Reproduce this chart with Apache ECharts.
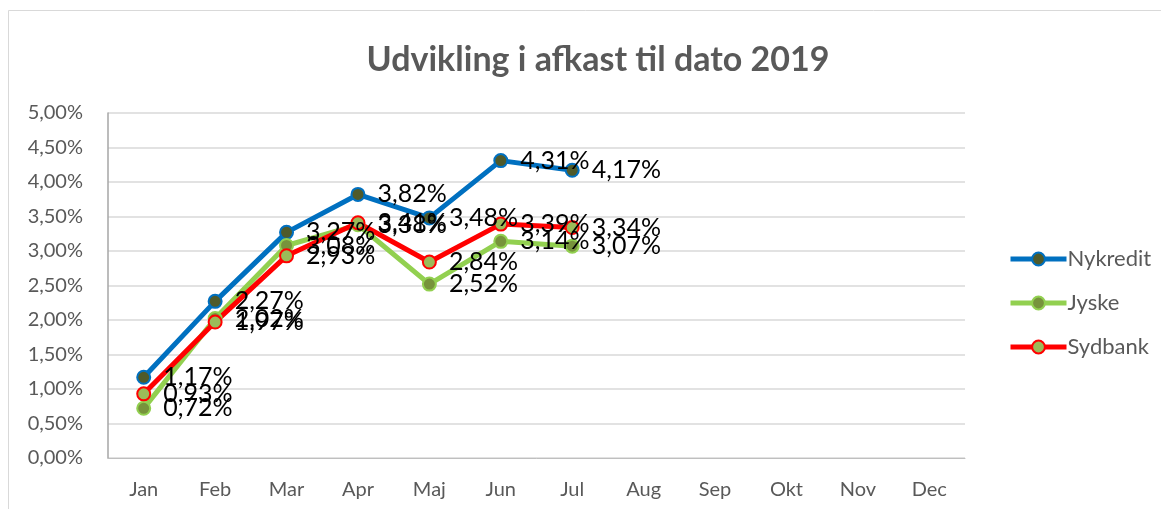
<!DOCTYPE html>
<html>
<head>
<meta charset="utf-8">
<script src="https://cdn.jsdelivr.net/npm/echarts@6/dist/echarts.min.js"></script>
<style>
  html, body { margin: 0; padding: 0; background: #fff; }
  #chart { width: 1161px; height: 509px; }
</style>
</head>
<body>
<div id="chart"></div>
<script>
var months = ["Jan", "Feb", "Mar", "Apr", "Maj", "Jun", "Jul", "Aug", "Sep", "Okt", "Nov", "Dec"];
var nykredit = [1.17, 2.27, 3.27, 3.82, 3.48, 4.31, 4.17];
var jyske = [0.72, 2.02, 3.08, 3.38, 2.52, 3.14, 3.07];
var sydbank = [0.93, 1.97, 2.93, 3.41, 2.84, 3.39, 3.34];

var fontName = "Lato, 'Open Sans', sans-serif";

function pct(v) {
  return v.toFixed(2).replace(".", ",") + "%";
}

function makeSeries(name, data, lineColor, fillColor) {
  return {
    name: name,
    type: "line",
    data: data,
    symbol: "circle",
    symbolSize: 13,
    lineStyle: { color: lineColor, width: 5 },
    itemStyle: { color: fillColor, borderColor: lineColor, borderWidth: 2 },
    label: {
      show: true,
      position: "right",
      distance: 12,
      offset: [0, 2],
      color: "#000",
      fontSize: 25,
      fontFamily: fontName,
      formatter: function(p) { return pct(p.value); }
    },
    labelLayout: { hideOverlap: false },
    emphasis: { disabled: true },
    animation: false
  };
}

var myChart = echarts.init(document.getElementById("chart"));
var option = {
  backgroundColor: "#fff",
  textStyle: { fontFamily: fontName },
  title: {
    text: "Udvikling i afkast til dato 2019",
    left: 593,
    top: 38,
    textAlign: "center",
    textStyle: { color: "#595959", fontSize: 34, fontWeight: "bold", fontFamily: fontName }
  },
  graphic: [{
    type: "rect",
    shape: { x: 8.5, y: 10.5, width: 1160, height: 520 },
    style: { fill: "none", stroke: "#d9d9d9", lineWidth: 1 },
    silent: true
  }],
  legend: {
    orient: "vertical",
    left: 1003,
    top: 243,
    itemGap: 22,
    itemWidth: 56,
    itemHeight: 16,
    lineStyle: { width: 5 },
    textStyle: { color: "#595959", fontSize: 22, fontFamily: fontName, padding: [0, 0, 0, -4] },
    data: ["Nykredit", "Jyske", "Sydbank"]
  },
  grid: { left: 108, right: 196, top: 113, bottom: 51 },
  xAxis: {
    type: "category",
    data: months,
    boundaryGap: true,
    axisLine: { lineStyle: { color: "#bfbfbf", width: 1 } },
    axisTick: { show: false },
    axisLabel: { color: "#595959", fontSize: 20, margin: 22, fontFamily: fontName }
  },
  yAxis: {
    type: "value",
    min: 0,
    max: 5,
    interval: 0.5,
    axisLine: { show: true, lineStyle: { color: "#a6a6a6", width: 1.5 } },
    axisTick: { show: false },
    splitLine: { lineStyle: { color: "#d9d9d9", width: 1.5 } },
    axisLabel: {
      color: "#595959",
      fontSize: 20,
      margin: 25,
      fontFamily: fontName,
      formatter: function(v) { return pct(v); }
    }
  },
  series: [
    makeSeries("Nykredit", nykredit, "#0070C0", "#4F5A2A"),
    makeSeries("Jyske", jyske, "#92D050", "#77933C"),
    makeSeries("Sydbank", sydbank, "#FF0000", "#9BBB59")
  ]
};
myChart.setOption(option);
</script>
</body>
</html>
